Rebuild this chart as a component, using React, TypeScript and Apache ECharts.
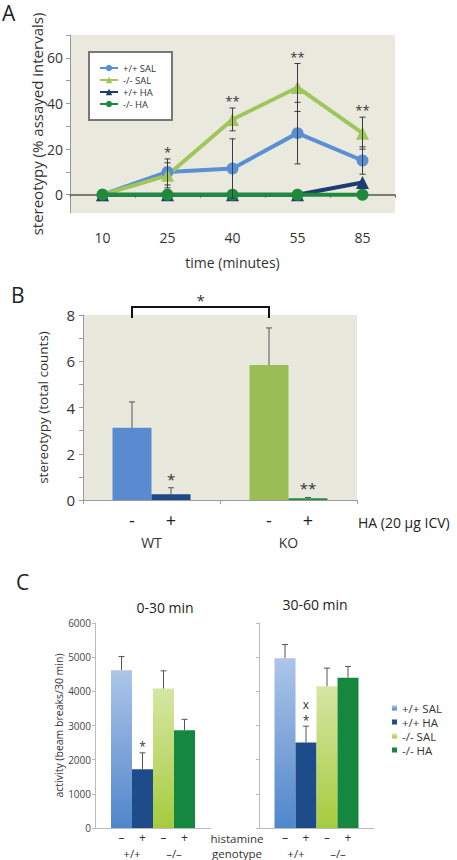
import React, { useEffect, useRef } from 'react';
import * as echarts from 'echarts';

// ---------- Panel A data ----------
const timeLabels = ['10', '25', '40', '55', '85'];
const namesA = ['+/+ SAL', '-/- SAL', '+/+ HA', '-/- HA'];
const wtSal = [0, 10, 11.5, 27, 15];
const wtSalErr = [0, 5.7, 13, 13.5, 6];
const koSal = [0, 8.5, 33, 47, 27];
const koSalErr = [0, 5.5, 5, 10.5, 7];
const wtHa = [0, 0, 0, 0, 5.4];
const koHa = [0, 0, 0, 0, 0];
const starsA = ['', '*', '**', '**', '**'];
const yTicksA = [0, 10, 20, 30, 40, 50, 60, 70];
const yLabelsA = [0, 20, 40, 60];

// ---------- Panel B data ----------
const groupsB = ['WT', 'KO'];
const salB = [3.12, 5.84];
const salErrB = [1.12, 1.6];
const haB = [0.25, 0.08];
const haErrB = [0.28, 0.03];
const starsHaB = ['*', '**'];
const bracketB = [7.87, 8.35];
const bracketStarB = '*';

// ---------- Panel C data ----------
const namesC = ['+/+ SAL', '+/+ HA', '-/- SAL', '-/- HA'];
const histamineC = ['–', '+', '–', '+'];
const c030 = [4620, 1720, 4080, 2860];
const c030Err = [400, 480, 520, 320];
const c3060 = [4970, 2500, 4150, 4400];
const c3060Err = [400, 480, 530, 330];
const starsC030 = [[], ['*'], [], []];
const starsC3060 = [[], ['*', 'x'], [], []];

const FONT = 'Open Sans, Lato, sans-serif';
const colA = ['#5b8fd4', '#a0c55b', '#1c3c72', '#1f8a3b'];
const colBsal = ['#5a8ad0', '#9bbd55'];
const colBha = ['#1f4a88', '#2a8a3e'];
const grad = (top: string, bottom: string) =>
  new echarts.graphic.LinearGradient(0, 0, 0, 1, [
    { offset: 0, color: top },
    { offset: 1, color: bottom },
  ]);
const colC = () => [grad('#adc5e8', '#4f86cc'), '#1e4c8a', grad('#d6e6a4', '#a6cb3e'), '#16873e'];

const BAR_B = 39;
const BAR_C = 21;

function errBoth(params: any, api: any) {
  const c = api.value(0);
  const p0 = api.coord([c, api.value(1)]);
  const p1 = api.coord([c, api.value(2)]);
  const h = 3;
  const st = { stroke: '#3a3a3a', lineWidth: 1 };
  return {
    type: 'group',
    children: [
      { type: 'line', shape: { x1: p0[0], y1: p0[1], x2: p1[0], y2: p1[1] }, style: st },
      { type: 'line', shape: { x1: p0[0] - h, y1: p0[1], x2: p0[0] + h, y2: p0[1] }, style: st },
      { type: 'line', shape: { x1: p1[0] - h, y1: p1[1], x2: p1[0] + h, y2: p1[1] }, style: st },
    ],
  };
}

function starsRenderA(params: any, api: any) {
  const c = api.value(0);
  const p = api.coord([c, api.value(1)]);
  return {
    type: 'text',
    x: p[0],
    y: p[1] - 7,
    style: { text: starsA[c], fontSize: 13, fontFamily: FONT, fill: '#333', align: 'center', verticalAlign: 'middle' },
  };
}

function errTopFactory(barW: number, nSlots: number, stars: string[][], starGap: number, starStep: number, starSize: number) {
  return (params: any, api: any) => {
    const c = api.value(0);
    const slot = api.value(3);
    const p0 = api.coord([c, api.value(1)]);
    const p1 = api.coord([c, api.value(2)]);
    const x = p0[0] + (slot - (nSlots - 1) / 2) * barW;
    const h = 3;
    const st = { stroke: '#555', lineWidth: 1 };
    const children: any[] = [
      { type: 'line', shape: { x1: x, y1: p0[1], x2: x, y2: p1[1] }, style: st },
      { type: 'line', shape: { x1: x - h, y1: p1[1], x2: x + h, y2: p1[1] }, style: st },
    ];
    const s = stars[params.dataIndex] || [];
    s.forEach((t, k) => {
      children.push({
        type: 'text',
        x,
        y: p1[1] - starGap - k * starStep,
        style: {
          text: t,
          fontSize: starSize,
          fontFamily: FONT,
          fill: '#333',
          align: 'center',
          verticalAlign: 'middle',
        },
      });
    });
    return { type: 'group', children };
  };
}

function bracketRender(params: any, api: any) {
  const yLow = api.coord([0, bracketB[0]])[1];
  const yHigh = api.coord([0, bracketB[1]])[1];
  const xl = api.coord([0, 0])[0] - BAR_B / 2;
  const xr = api.coord([1, 0])[0] - BAR_B / 2;
  return {
    type: 'group',
    children: [
      {
        type: 'polyline',
        shape: { points: [[xl, yLow], [xl, yHigh], [xr, yHigh], [xr, yLow]] },
        style: { stroke: '#111', lineWidth: 2, fill: 'none' },
      },
      {
        type: 'text',
        x: (xl + xr) / 2,
        y: yHigh - 7,
        style: { text: bracketStarB, fontSize: 15, fontFamily: FONT, fill: '#333', align: 'center', verticalAlign: 'middle' },
      },
    ],
  };
}

export default function App() {
  const ref = useRef<HTMLDivElement>(null);
  useEffect(() => {
    document.body.style.margin = '0';
    const chart = echarts.init(ref.current!, null, { renderer: 'svg' });

    const errDataA: number[][] = [];
    [[wtSal, wtSalErr], [koSal, koSalErr]].forEach(([m, e]) => {
      m.forEach((v, i) => {
        if (e[i] > 0) errDataA.push([i, v - e[i], v + e[i]]);
      });
    });
    const starDataA: number[][] = [];
    starsA.forEach((s, i) => {
      if (s) starDataA.push([i, Math.max(wtSal[i] + wtSalErr[i], koSal[i] + koSalErr[i])]);
    });

    const errDataB: number[][] = [];
    const starsB: string[][] = [];
    salB.forEach((v, i) => {
      errDataB.push([i, v, v + salErrB[i], 0]);
      starsB.push([]);
    });
    haB.forEach((v, i) => {
      errDataB.push([i, v, v + haErrB[i], 1]);
      starsB.push([starsHaB[i]]);
    });

    const cLeft = colC();
    const cRight = colC();
    const barC = (vals: number[], axis: number, cols: any[]) =>
      namesC.map((n, k) => ({
        type: 'bar',
        name: n + ' ',
        xAxisIndex: axis,
        yAxisIndex: axis,
        data: [vals[k]],
        barWidth: BAR_C,
        barGap: '0%',
        itemStyle: { color: cols[k] },
        label: {
          show: true,
          position: 'bottom',
          distance: 3,
          formatter: histamineC[k],
          fontSize: 12,
          color: '#333',
          fontFamily: FONT,
        },
      }));
    const errC = (vals: number[], errs: number[], axis: number, stars: string[][]) => ({
      type: 'custom',
      xAxisIndex: axis,
      yAxisIndex: axis,
      z: 10,
      renderItem: errTopFactory(BAR_C, 4, stars, 6, 16, 12),
      encode: { x: 0, y: 1 },
      data: vals.map((v, k) => [0, v, v + errs[k], k]),
    });

    const option: any = {
      animation: false,
      textStyle: { fontFamily: FONT },
      grid: [
        { left: 70, top: 35, width: 325, height: 178, show: true, backgroundColor: '#eae9de', borderWidth: 0 },
        { left: 83, top: 315, width: 274, height: 185, show: true, backgroundColor: '#e9e8dc', borderWidth: 0 },
        { left: 95, top: 623, width: 116, height: 205 },
        { left: 259, top: 623, width: 115, height: 205 },
      ],
      legend: [
        {
          data: namesA,
          orient: 'vertical',
          left: 89,
          top: 52,
          padding: [11, 16, 11, 10],
          itemGap: 2,
          itemWidth: 18,
          itemHeight: 8,
          borderColor: '#777',
          borderWidth: 2,
          backgroundColor: '#fff',
          textStyle: { fontSize: 9.5, color: '#333', fontFamily: FONT },
          selectedMode: false,
        },
        {
          data: namesC.map((n) => n + ' '),
          orient: 'vertical',
          left: 387,
          top: 697,
          icon: 'rect',
          itemWidth: 5,
          itemHeight: 5,
          itemGap: 2,
          formatter: (n: string) => n.trim(),
          textStyle: { fontSize: 11.5, color: '#333', fontFamily: FONT },
          selectedMode: false,
        },
      ],
      xAxis: [
        {
          gridIndex: 0,
          type: 'category',
          data: timeLabels,
          axisLine: { onZero: true, lineStyle: { color: '#555', width: 1.5 } },
          axisTick: { show: true, length: 3, lineStyle: { color: '#666' } },
          axisLabel: { margin: 17, fontSize: 14, color: '#333' },
          name: 'time (minutes)',
          nameLocation: 'middle',
          nameGap: 42,
          nameMoveOverlap: false,
          nameTextStyle: { fontSize: 14, color: '#333' },
        },
        {
          gridIndex: 1,
          type: 'category',
          data: groupsB,
          axisLine: { lineStyle: { color: '#999' } },
          axisTick: { show: true, length: 4, lineStyle: { color: '#999' } },
          axisLabel: { margin: 35, fontSize: 14, color: '#333' },
        },
        {
          gridIndex: 2,
          type: 'category',
          data: [''],
          axisLine: { lineStyle: { color: '#bbb' } },
          axisTick: { show: false },
          axisLabel: { show: false },
        },
        {
          gridIndex: 3,
          type: 'category',
          data: [''],
          axisLine: { lineStyle: { color: '#bbb' } },
          axisTick: { show: false },
          axisLabel: { show: false },
        },
      ],
      yAxis: [
        {
          gridIndex: 0,
          type: 'value',
          min: -8,
          max: 70,
          axisLine: { show: true, lineStyle: { color: '#999' } },
          axisTick: { show: true, length: 4, customValues: yTicksA, lineStyle: { color: '#999' } },
          axisLabel: { customValues: yLabelsA, fontSize: 14, color: '#333', margin: 7 },
          splitLine: { show: false },
          name: 'stereotypy (% assayed intervals)',
          nameLocation: 'middle',
          nameGap: 26,
          nameMoveOverlap: false,
          nameTextStyle: { fontSize: 15, color: '#333' },
        },
        {
          gridIndex: 1,
          type: 'value',
          min: 0,
          max: 8,
          interval: 1,
          axisLine: { show: true, lineStyle: { color: '#999' } },
          axisTick: { show: true, length: 4, lineStyle: { color: '#999' } },
          axisLabel: {
            formatter: (v: number) => (v % 2 === 0 ? String(v) : ''),
            fontSize: 15,
            color: '#333',
            margin: 8,
          },
          splitLine: { show: false },
          name: 'stereotypy (total counts)',
          nameLocation: 'middle',
          nameGap: 33,
          nameMoveOverlap: false,
          nameTextStyle: { fontSize: 13.5, color: '#333' },
        },
        {
          gridIndex: 2,
          type: 'value',
          min: 0,
          max: 6000,
          interval: 1000,
          axisLine: { show: true, lineStyle: { color: '#bbb' } },
          axisTick: { show: true, length: 3, lineStyle: { color: '#bbb' } },
          axisLabel: { fontSize: 10, color: '#444', margin: 4, formatter: (v: number) => String(v) },
          splitLine: { show: false },
          name: 'activity (beam breaks/30 min)',
          nameLocation: 'middle',
          nameGap: 31,
          nameMoveOverlap: false,
          nameTextStyle: { fontSize: 10.5, color: '#333' },
        },
        {
          gridIndex: 3,
          type: 'value',
          min: 0,
          max: 6000,
          interval: 1000,
          axisLine: { show: true, lineStyle: { color: '#bbb' } },
          axisTick: { show: true, length: 3, lineStyle: { color: '#bbb' } },
          axisLabel: { show: false },
          splitLine: { show: false },
        },
      ],
      series: [
        ...[wtSal, koSal, wtHa, koHa].map((d, k) => ({
          type: 'line',
          name: namesA[k],
          xAxisIndex: 0,
          yAxisIndex: 0,
          data: d,
          symbol: k === 0 || k === 3 ? 'circle' : 'triangle',
          symbolSize: k === 0 || k === 3 ? 12 : 13,
          itemStyle: { color: colA[k] },
          lineStyle: { color: colA[k], width: 4 },
        })),
        {
          type: 'custom',
          xAxisIndex: 0,
          yAxisIndex: 0,
          z: 10,
          renderItem: errBoth,
          encode: { x: 0, y: 1 },
          data: errDataA,
        },
        {
          type: 'custom',
          xAxisIndex: 0,
          yAxisIndex: 0,
          z: 10,
          renderItem: starsRenderA,
          encode: { x: 0, y: 1 },
          data: starDataA,
        },
        {
          type: 'bar',
          name: 'SAL',
          xAxisIndex: 1,
          yAxisIndex: 1,
          data: salB.map((v, i) => ({ value: v, itemStyle: { color: colBsal[i] } })),
          barWidth: BAR_B,
          barGap: '0%',
          label: { show: true, position: 'bottom', distance: 11, formatter: '-', fontSize: 18, color: '#222' },
        },
        {
          type: 'bar',
          name: 'HA',
          xAxisIndex: 1,
          yAxisIndex: 1,
          data: haB.map((v, i) => ({ value: v, itemStyle: { color: colBha[i] } })),
          barWidth: BAR_B,
          barGap: '0%',
          label: { show: true, position: 'bottom', distance: 11, formatter: '+', fontSize: 18, color: '#222' },
        },
        {
          type: 'custom',
          xAxisIndex: 1,
          yAxisIndex: 1,
          z: 10,
          renderItem: errTopFactory(BAR_B, 2, starsB, 9, 14, 15),
          encode: { x: 0, y: 1 },
          data: errDataB,
        },
        {
          type: 'custom',
          xAxisIndex: 1,
          yAxisIndex: 1,
          z: 10,
          renderItem: bracketRender,
          encode: { x: 0, y: 1 },
          data: [[0, bracketB[0]]],
        },
        ...barC(c030, 2, cLeft),
        errC(c030, c030Err, 2, starsC030),
        ...barC(c3060, 3, cRight),
        errC(c3060, c3060Err, 3, starsC3060),
      ],
      graphic: [
        { type: 'text', left: 2, top: 2, style: { text: 'A', fontSize: 21, fontFamily: FONT, fill: '#222' } },
        { type: 'text', left: 11, top: 284, style: { text: 'B', fontSize: 21, fontFamily: FONT, fill: '#222' } },
        { type: 'text', left: 16, top: 571, style: { text: 'C', fontSize: 21, fontFamily: FONT, fill: '#222' } },
        { type: 'text', x: 165, y: 607, style: { text: '0-30 min', fontSize: 14, fontFamily: FONT, fill: '#222', align: 'center', verticalAlign: 'middle' } },
        { type: 'text', x: 315, y: 604, style: { text: '30-60 min', fontSize: 14, fontFamily: FONT, fill: '#222', align: 'center', verticalAlign: 'middle' } },
        { type: 'text', x: 358, y: 522, style: { text: 'HA (20 µg ICV)', fontSize: 14, fontFamily: FONT, fill: '#222', align: 'left', verticalAlign: 'middle' } },
        { type: 'text', x: 237, y: 838, style: { text: 'histamine', fontSize: 11.5, fontFamily: FONT, fill: '#333', align: 'center', verticalAlign: 'middle' } },
        { type: 'text', x: 237, y: 853, style: { text: 'genotype', fontSize: 11.5, fontFamily: FONT, fill: '#333', align: 'center', verticalAlign: 'middle' } },
        { type: 'text', x: 132, y: 853, style: { text: '+/+', fontSize: 11.5, fontFamily: FONT, fill: '#333', align: 'center', verticalAlign: 'middle' } },
        { type: 'text', x: 174, y: 853, style: { text: '–/–', fontSize: 11.5, fontFamily: FONT, fill: '#333', align: 'center', verticalAlign: 'middle' } },
        { type: 'text', x: 296, y: 853, style: { text: '+/+', fontSize: 11.5, fontFamily: FONT, fill: '#333', align: 'center', verticalAlign: 'middle' } },
        { type: 'text', x: 338, y: 853, style: { text: '–/–', fontSize: 11.5, fontFamily: FONT, fill: '#333', align: 'center', verticalAlign: 'middle' } },
      ],
    };
    chart.setOption(option);
    return () => chart.dispose();
  }, []);
  return <div ref={ref} style={{ width: 457, height: 860 }} />;
}
